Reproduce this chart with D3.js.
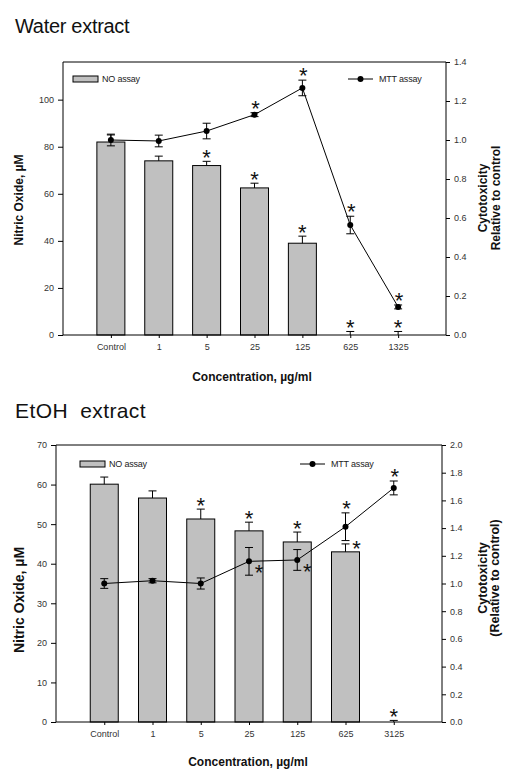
<!DOCTYPE html>
<html><head><meta charset="utf-8">
<script src="https://cdn.jsdelivr.net/npm/d3@7"></script>
<style>body{margin:0;background:#fff}svg{display:block}text{font-family:"Liberation Sans",Arial,sans-serif}</style>
</head><body>
<svg id="c" width="511" height="770"></svg>
<script>
// ---- Data: Water extract ----
const waterCategories = ["Control","1","5","25","125","625","1325"];
const waterNO = [82, 74, 72, 62.5, 39, 0, 0];
const waterNOErr = [3, 2, 1.8, 2, 3, 1.5, 1.5];
const waterMTT = [1.0, 0.995, 1.046, 1.13, 1.267, 0.564, 0.144];
const waterMTTErr = [0.03, 0.03, 0.04, 0.01, 0.04, 0.045, 0.01];
const waterNOSig = ["", "", "above", "above", "above", "above", "above"];
const waterMTTSig = ["", "", "", "above", "above", "above", "above"];
const waterLeftTicks = [0, 20, 40, 60, 80, 100];
const waterRightTicks = [0, 0.2, 0.4, 0.6, 0.8, 1.0, 1.2, 1.4];

// ---- Data: EtOH extract ----
const etohCategories = ["Control","1","5","25","125","625","3125"];
const etohNO = [60.1, 56.6, 51.3, 48.3, 45.5, 43, 0];
const etohNOErr = [1.8, 1.8, 2.5, 2.2, 2.5, 2, 0.4];
const etohMTT = [1.0, 1.02, 1.0, 1.16, 1.17, 1.41, 1.69];
const etohMTTErr = [0.035, 0.015, 0.04, 0.1, 0.075, 0.1, 0.05];
const etohNOSig = ["", "", "above", "above", "above", "right", "above"];
const etohMTTSig = ["", "", "", "right", "right", "above", "above"];
const etohLeftTicks = [0, 10, 20, 30, 40, 50, 60, 70];
const etohRightTicks = [0, 0.2, 0.4, 0.6, 0.8, 1.0, 1.2, 1.4, 1.6, 1.8, 2.0];

const svg = d3.select("#c");
const GREY = "#c0c0c0";

function panel(o) {
  const g = svg.append("g");
  const x = d3.scalePoint().domain(o.cats).range([o.left, o.right]).padding(1);
  const yL = d3.scaleLinear().domain(o.leftDomain).range([o.bottom, o.top]);
  const yR = d3.scaleLinear().domain(o.rightDomain).range([o.bottom, o.top]);
  const bw = 28;

  // title
  g.append("text").attr("x", 15).attr("y", o.titleY).attr("font-size", o.titleSize)
    .attr("letter-spacing", o.titleLS).attr("word-spacing", o.titleWS).attr("fill", "#111").text(o.title);

  // bars
  g.selectAll("rect.bar").data(o.no).join("rect")
    .attr("x", (d, i) => x(o.cats[i]) - bw / 2)
    .attr("y", d => yL(d))
    .attr("width", bw)
    .attr("height", d => yL(0) - yL(d))
    .attr("fill", GREY).attr("stroke", "#000").attr("stroke-width", 1);

  // bar error bars (upper)
  o.no.forEach((d, i) => {
    const cx = x(o.cats[i]);
    const yt = yL(d + o.noErr[i]);
    g.append("line").attr("x1", cx).attr("x2", cx).attr("y1", yL(d)).attr("y2", yt).attr("stroke", "#000");
    g.append("line").attr("x1", cx - 4).attr("x2", cx + 4).attr("y1", yt).attr("y2", yt).attr("stroke", "#000");
  });

  // axes box
  g.append("line").attr("x1", o.left).attr("x2", o.right).attr("y1", o.top).attr("y2", o.top).attr("stroke", "#000");

  const axL = d3.axisLeft(yL).tickValues(o.leftTicks).tickSize(5).tickPadding(4).tickFormat(d3.format("d"));
  const gl = g.append("g").attr("transform", `translate(${o.left},0)`).call(axL);
  const axR = d3.axisRight(yR).tickValues(o.rightTicks).tickSize(4).tickPadding(4).tickFormat(d3.format(".1f"));
  const gr = g.append("g").attr("transform", `translate(${o.right},0)`).call(axR);
  const axB = d3.axisBottom(x).tickSize(3).tickPadding(6);
  const gb = g.append("g").attr("transform", `translate(0,${o.bottom})`).call(axB);
  [gl, gr, gb].forEach(a => {
    a.select(".domain").attr("stroke", "#000");
    a.selectAll(".tick line").attr("stroke", "#000");
    a.selectAll(".tick text").attr("font-family", "Liberation Sans, Arial, sans-serif").attr("font-size", 9).attr("fill", "#333");
  });
  gl.select(".domain").attr("d", `M0,${o.bottom}V${o.top}`);
  gr.select(".domain").attr("d", `M0,${o.bottom}V${o.top}`);
  gb.select(".domain").attr("d", `M${o.left},0H${o.right}`);

  // MTT line
  const line = d3.line().x((d, i) => x(o.cats[i])).y(d => yR(d));
  g.append("path").datum(o.mtt).attr("d", line).attr("fill", "none").attr("stroke", "#000").attr("stroke-width", 1);
  o.mtt.forEach((d, i) => {
    const cx = x(o.cats[i]);
    const e = o.mttErr[i];
    const y1 = yR(d + e), y2 = yR(d - e);
    g.append("line").attr("x1", cx).attr("x2", cx).attr("y1", y1).attr("y2", y2).attr("stroke", "#000");
    g.append("line").attr("x1", cx - 4).attr("x2", cx + 4).attr("y1", y1).attr("y2", y1).attr("stroke", "#000");
    g.append("line").attr("x1", cx - 4).attr("x2", cx + 4).attr("y1", y2).attr("y2", y2).attr("stroke", "#000");
  });
  g.selectAll("circle.pt").data(o.mtt).join("circle")
    .attr("cx", (d, i) => x(o.cats[i])).attr("cy", d => yR(d)).attr("r", 3).attr("fill", "#000");

  // significance asterisks
  const star = (cx, cy) => g.append("text").attr("x", cx).attr("y", cy + 13)
    .attr("text-anchor", "middle").attr("font-size", 22).attr("fill", "#111").text("*");
  o.noSig.forEach((s, i) => {
    if (!s) return;
    const cx = x(o.cats[i]);
    const yt = yL(o.no[i] + o.noErr[i]);
    if (s === "above") star(cx, yt - 9);
    else star(cx + 11, yt - 1);
  });
  o.mttSig.forEach((s, i) => {
    if (!s) return;
    const cx = x(o.cats[i]);
    if (s === "above") star(cx + 1, yR(o.mtt[i] + o.mttErr[i]) - 10);
    else star(cx + 10, yR(o.mtt[i]) + 6);
  });

  // legend
  const ly = o.legendY;
  g.append("rect").attr("x", o.legNOx).attr("y", ly - 3).attr("width", 25).attr("height", 6)
    .attr("fill", GREY).attr("stroke", "#000");
  g.append("text").attr("x", o.legNOx + 29).attr("y", ly + 3).attr("font-size", 9).attr("fill", "#222")
    .attr("letter-spacing", -0.2).text("NO assay");
  g.append("line").attr("x1", o.legMTTx).attr("x2", o.legMTTx + 25).attr("y1", ly).attr("y2", ly).attr("stroke", "#000");
  g.append("circle").attr("cx", o.legMTTx + 12.5).attr("cy", ly).attr("r", 3).attr("fill", "#000");
  g.append("text").attr("x", o.legMTTx + 31).attr("y", ly + 3).attr("font-size", 9).attr("fill", "#222")
    .attr("letter-spacing", -0.2).text("MTT assay");

  // axis titles
  g.append("text").attr("x", o.xLabelX).attr("y", o.xLabelY).attr("text-anchor", "middle")
    .attr("font-weight", "bold").attr("font-size", 12).attr("fill", "#111").text("Concentration, \u00b5g/ml");
  g.append("text").attr("transform", `translate(${o.yLabelX},${o.yLabelCY}) rotate(-90)`).attr("text-anchor", "middle")
    .attr("font-weight", "bold").attr("font-size", o.yLabelSize).attr("fill", "#111").text("Nitric Oxide, \u00b5M");
  o.rightLabel.forEach((t, k) => {
    g.append("text").attr("transform", `translate(${o.rLabelX + k * o.rLabelGap},${o.rLabelCY}) rotate(-90)`)
      .attr("text-anchor", "middle").attr("font-weight", "bold").attr("font-size", o.rLabelSize).attr("fill", "#111").text(t);
  });
}

panel({
  title: "Water extract", titleY: 33, titleSize: 20, titleLS: -0.3, titleWS: 0,
  cats: waterCategories, no: waterNO, noErr: waterNOErr, mtt: waterMTT, mttErr: waterMTTErr,
  noSig: waterNOSig, mttSig: waterMTTSig,
  left: 63, right: 446, top: 62, bottom: 335,
  leftDomain: [0, 116], rightDomain: [0, 1.4], leftTicks: waterLeftTicks, rightTicks: waterRightTicks,
  legendY: 79, legNOx: 73, legMTTx: 348,
  xLabelX: 252, xLabelY: 381,
  yLabelX: 23, yLabelCY: 200, yLabelSize: 12,
  rightLabel: ["Cytotoxicity", "Relative to control"], rLabelX: 487, rLabelGap: 13, rLabelCY: 198, rLabelSize: 12
});

panel({
  title: "EtOH extract", titleY: 418, titleSize: 21, titleLS: 0.4, titleWS: 6,
  cats: etohCategories, no: etohNO, noErr: etohNOErr, mtt: etohMTT, mttErr: etohMTTErr,
  noSig: etohNOSig, mttSig: etohMTTSig,
  left: 56, right: 442, top: 445, bottom: 722,
  leftDomain: [0, 70], rightDomain: [0, 2.0], leftTicks: etohLeftTicks, rightTicks: etohRightTicks,
  legendY: 464, legNOx: 80, legMTTx: 300,
  xLabelX: 248, xLabelY: 766,
  yLabelX: 24, yLabelCY: 600, yLabelSize: 14,
  rightLabel: ["Cytotoxicity", "(Relative to control)"], rLabelX: 487, rLabelGap: 12, rLabelCY: 578, rLabelSize: 12.5
});
</script>
</body></html>
